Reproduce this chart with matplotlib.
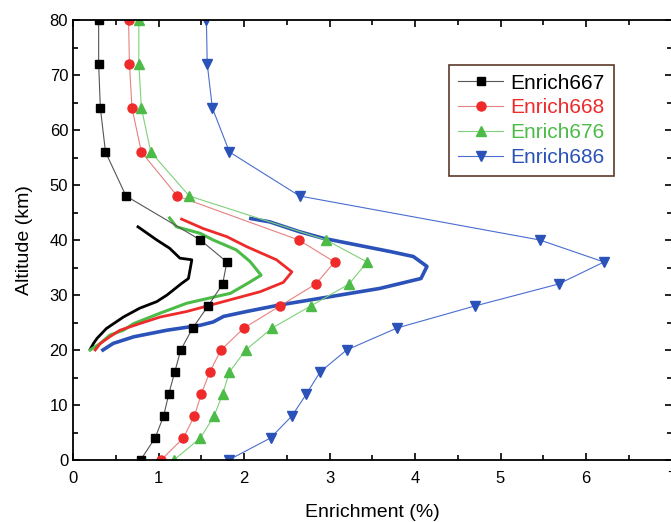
import numpy as np
import matplotlib.pyplot as plt
from matplotlib.ticker import MultipleLocator

plt.rcParams.update({
    "font.family": ["Liberation Sans", "DejaVu Sans"],
    "font.size": 12,
    "xtick.direction": "in",
    "ytick.direction": "in",
})

# marker profiles (altitude in km, enrichment in %)
alt = [0, 4, 8, 12, 16, 20, 24, 28, 32, 36, 40, 48, 56, 64, 72, 80]
enrich667 = [0.79, 0.96, 1.06, 1.12, 1.19, 1.26, 1.40, 1.58, 1.75, 1.80, 1.49, 0.62, 0.38, 0.32, 0.30, 0.30]
enrich668 = [1.03, 1.29, 1.42, 1.50, 1.60, 1.73, 2.00, 2.42, 2.84, 3.06, 2.64, 1.22, 0.80, 0.69, 0.66, 0.65]
enrich676 = [1.18, 1.49, 1.65, 1.75, 1.83, 2.02, 2.33, 2.78, 3.23, 3.44, 2.96, 1.36, 0.91, 0.80, 0.77, 0.77]
enrich686 = [1.82, 2.31, 2.56, 2.73, 2.89, 3.20, 3.79, 4.70, 5.68, 6.21, 5.46, 2.65, 1.83, 1.63, 1.57, 1.56]

# thick solid profiles without markers
black_x = [0.76, 0.98, 1.13, 1.25, 1.39, 1.35, 1.27, 1.10, 0.98, 0.78, 0.59, 0.39, 0.28, 0.24, 0.20]
black_y = [42.4, 40.0, 38.5, 36.7, 36.4, 33.0, 32.1, 30.0, 28.8, 27.6, 26.0, 23.9, 22.1, 21.2, 20.1]
green_x = [1.13, 1.21, 1.49, 1.64, 1.91, 2.07, 2.20, 2.03, 1.84, 1.64, 1.33, 1.02, 0.71, 0.59, 0.43, 0.32, 0.20]
green_y = [44.0, 42.4, 41.2, 40.0, 38.2, 36.1, 33.6, 32.0, 30.3, 29.6, 28.5, 26.7, 24.8, 23.6, 22.7, 21.2, 20.0]
red_x = [1.27, 1.52, 1.80, 2.03, 2.38, 2.56, 2.46, 2.19, 1.76, 1.33, 1.02, 0.78, 0.55, 0.43, 0.32, 0.26]
red_y = [43.8, 42.1, 40.6, 38.8, 36.4, 34.2, 32.3, 30.6, 28.8, 27.0, 26.0, 24.8, 23.6, 22.4, 21.2, 20.0]
blue_x = [2.08, 2.30, 2.65, 2.93, 3.32, 3.71, 3.98, 4.14, 4.07, 3.59, 3.01, 2.42, 2.03, 1.76, 1.64, 1.49, 1.10, 0.71, 0.47, 0.35]
blue_y = [43.9, 43.3, 41.5, 40.3, 39.1, 37.9, 37.0, 35.2, 33.0, 31.2, 29.7, 28.2, 27.0, 26.1, 25.1, 24.5, 23.6, 22.4, 21.2, 20.0]

c_black, c_red, c_green, c_blue = "#000000", "#ee2a2a", "#4cbb47", "#2a52b8"

fig = plt.figure(figsize=(6.71, 5.22), dpi=100)
ax = fig.add_axes([73 / 671, 62 / 522, 598.5 / 671, 440 / 522])

ax.plot(black_x, black_y, color=c_black, lw=2.0)
ax.plot(green_x, green_y, color=c_green, lw=2.2)
ax.plot(red_x, red_y, color=c_red, lw=2.0)
ax.plot(blue_x, blue_y, color=c_blue, lw=2.6)

ax.plot(enrich667, alt, color="#555555", lw=0.8, marker="s", ms=5.5,
        mfc=c_black, mec=c_black, label="Enrich667")
ax.plot(enrich668, alt, color="#e88080", lw=0.8, marker="o", ms=6.5,
        mfc=c_red, mec=c_red, label="Enrich668")
ax.plot(enrich676, alt, color="#7fd07a", lw=0.8, marker="^", ms=7,
        mfc=c_green, mec=c_green, label="Enrich676")
ax.plot(enrich686, alt, color="#4a6ed0", lw=0.8, marker="v", ms=7,
        mfc=c_blue, mec=c_blue, label="Enrich686")

ax.set_xlim(0, 7)
ax.set_ylim(0, 80)
ax.xaxis.set_major_locator(MultipleLocator(1))
ax.xaxis.set_minor_locator(MultipleLocator(0.5))
ax.yaxis.set_major_locator(MultipleLocator(10))
ax.yaxis.set_minor_locator(MultipleLocator(5))
ax.tick_params(which="major", length=5, width=1.2, labelsize=12, top=True, right=True)
ax.tick_params(which="minor", length=3.5, width=1.2, top=True, right=True)
ax.tick_params(axis="x", which="major", pad=8)
for s in ax.spines.values():
    s.set_linewidth(1.3)

ax.set_xlabel("Enrichment (%)", fontsize=14, labelpad=13)
ax.set_ylabel("Altitude (km)", fontsize=14, labelpad=12)

leg = ax.legend(loc="upper left", bbox_to_anchor=(0.628, 0.898), fontsize=15,
                fancybox=False, edgecolor="#5a3a2a", framealpha=1,
                handlelength=2.2, handletextpad=0.35, labelspacing=0.28,
                borderpad=0.42, borderaxespad=0)
leg.get_frame().set_linewidth(1.2)
for text, col in zip(leg.get_texts(), [c_black, c_red, c_green, c_blue]):
    text.set_color(col)

fig.savefig("out.png", dpi=100)
